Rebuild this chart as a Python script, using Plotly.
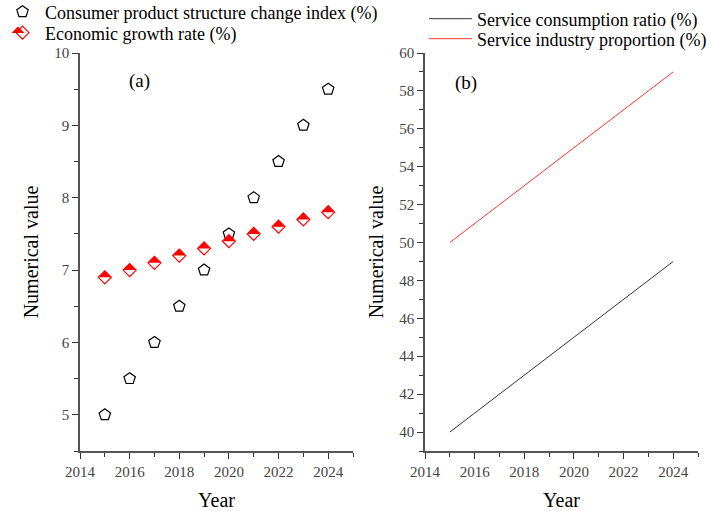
import plotly.graph_objects as go

# ---- data ----
years = [2015, 2016, 2017, 2018, 2019, 2020, 2021, 2022, 2023, 2024]
consumer_index = [5.0, 5.5, 6.0, 6.5, 7.0, 7.5, 8.0, 8.5, 9.0, 9.5]
growth_rate = [6.9, 7.0, 7.1, 7.2, 7.3, 7.4, 7.5, 7.6, 7.7, 7.8]
service_consumption = [40, 41, 42, 43, 44, 45, 46, 47, 48, 49]
service_industry = [50, 51, 52, 53, 54, 55, 56, 57, 58, 59]

SERIF = "Liberation Serif"
W, H = 711, 511
LEG_FONT = dict(family=SERIF, size=18, color="black")

fig = go.Figure()

# (a) scatter panel
fig.add_trace(go.Scatter(
    x=years, y=consumer_index, mode="markers",
    name="Consumer product structure change index (%)",
    marker=dict(symbol="pentagon-open", size=12, color="black", line=dict(width=1.2)),
    xaxis="x", yaxis="y", legend="legend",
))
fig.add_trace(go.Scatter(
    x=years, y=growth_rate, mode="markers",
    name="Economic growth rate (%)",
    marker=dict(symbol="diamond-open", size=10, color="red", line=dict(width=1.2)),
    xaxis="x", yaxis="y", legend="legend2",
))

# upper half of each diamond is filled
HALF_DIAMOND = "M-6.5,0 L0,6.5 L6.5,0 Z"
shapes = []
for xv, yv in zip(years, growth_rate):
    shapes.append(dict(
        type="path", xref="x", yref="y",
        xsizemode="pixel", ysizemode="pixel", xanchor=xv, yanchor=yv,
        path=HALF_DIAMOND, fillcolor="red", line=dict(width=0), layer="above",
    ))

# (b) line panel
fig.add_trace(go.Scatter(
    x=years, y=service_consumption, mode="lines",
    name="Service consumption ratio (%)",
    line=dict(color="#333333", width=1),
    xaxis="x2", yaxis="y2", legend="legend3",
))
fig.add_trace(go.Scatter(
    x=years, y=service_industry, mode="lines",
    name="Service industry proportion (%)",
    line=dict(color="#ff3333", width=1),
    xaxis="x2", yaxis="y2", legend="legend4",
))

ydom = [1 - 451 / H, 1 - 53 / H]
axis_common = dict(
    showline=True, linecolor="#555555", linewidth=1.5,
    ticks="outside", ticklen=6, tickwidth=1.2, tickcolor="#333333",
    showgrid=False, zeroline=False, automargin=False,
    tickfont=dict(family=SERIF, size=15, color="#444444"),
)
title_font = dict(family=SERIF, size=20, color="black")


def legend_box(x_px, y_px, itemwidth):
    return dict(x=x_px / W, y=1 - y_px / H, xanchor="left", yanchor="middle",
                bgcolor="rgba(0,0,0,0)", font=LEG_FONT, itemwidth=itemwidth)


# half fill for the legend diamond
shapes.append(dict(
    type="path", xref="paper", yref="paper",
    xsizemode="pixel", ysizemode="pixel", xanchor=18 / W, yanchor=1 - 33 / H,
    path=HALF_DIAMOND, fillcolor="red", line=dict(width=0), layer="above",
))

fig.update_layout(
    width=W, height=H, showlegend=True,
    margin=dict(l=0, r=0, t=0, b=0, autoexpand=False),
    paper_bgcolor="white", plot_bgcolor="white",
    font=dict(family=SERIF, color="black"),
    xaxis=dict(domain=[80 / W, 353 / W], range=[2014, 2025], dtick=2, tick0=2014,
               minor=dict(dtick=1), anchor="y",
               title=dict(text="Year", font=title_font, standoff=14), **axis_common),
    yaxis=dict(domain=ydom, range=[4.5, 10], dtick=1, tick0=5,
               minor=dict(dtick=0.5), anchor="x",
               title=dict(text="Numerical value", font=title_font, standoff=10), **axis_common),
    xaxis2=dict(domain=[425 / W, 698 / W], range=[2014, 2025], dtick=2, tick0=2014,
                minor=dict(dtick=1), anchor="y2",
                title=dict(text="Year", font=title_font, standoff=14), **axis_common),
    yaxis2=dict(domain=ydom, range=[39, 60], dtick=2, tick0=40,
                minor=dict(dtick=1), anchor="x2",
                title=dict(text="Numerical value", font=title_font, standoff=10), **axis_common),
    legend=legend_box(0, 12, 35),
    legend2=legend_box(0, 33, 35),
    legend3=legend_box(424, 19, 43),
    legend4=legend_box(424, 39, 43),
    shapes=shapes,
    annotations=[
        dict(text="(a)", x=127 / W, y=1 - 68 / H, xref="paper", yref="paper",
             showarrow=False, font=dict(family=SERIF, size=19)),
        dict(text="(b)", x=479 / W, y=1 - 70 / H, xref="paper", yref="paper",
             showarrow=False, font=dict(family=SERIF, size=19)),
    ],
)

# minor tick styling on every axis
for ax in ("xaxis", "yaxis", "xaxis2", "yaxis2"):
    fig.layout[ax].minor.update(ticks="outside", ticklen=4, tickwidth=1.2,
                                tickcolor="#333333", showgrid=False)

fig.write_html("out.html")
